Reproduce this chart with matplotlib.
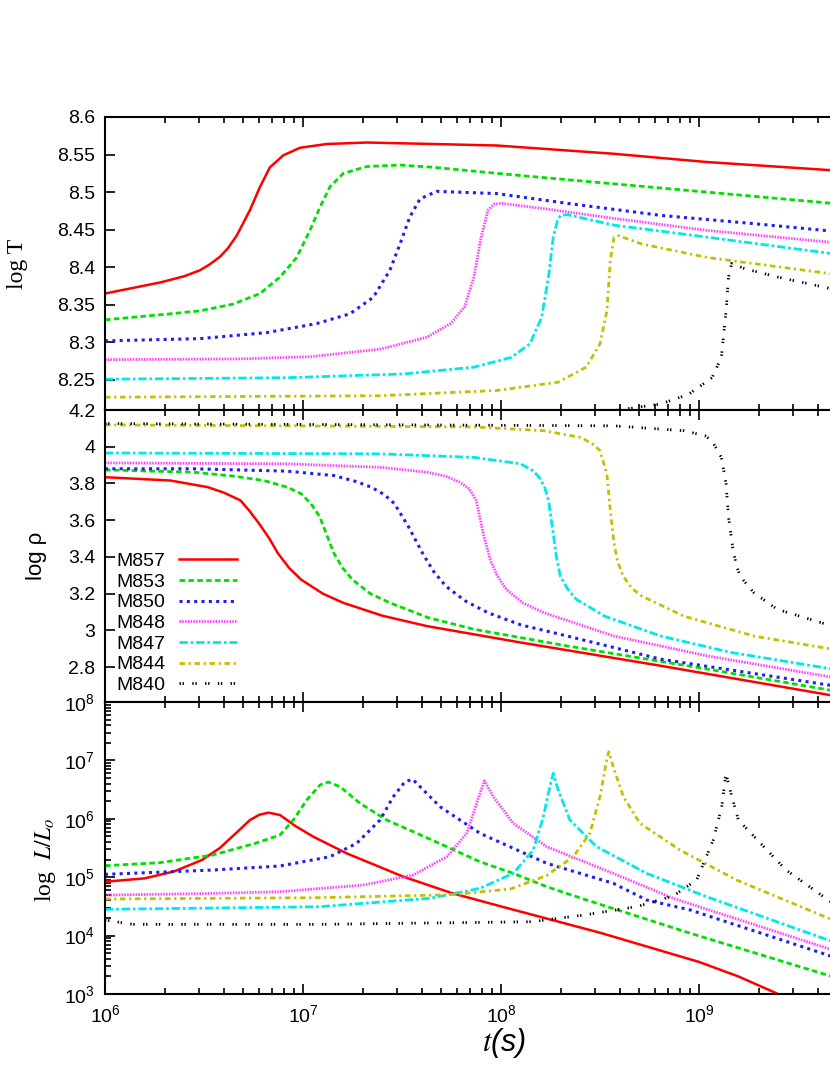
import numpy as np
import matplotlib
matplotlib.use("Agg")
import matplotlib.pyplot as plt
from matplotlib import ticker

plt.rcParams.update({
    "font.family": ["Liberation Sans", "DejaVu Sans"],
    "font.size": 14,
    "mathtext.fontset": "custom",
    "mathtext.rm": "Liberation Sans",
    "mathtext.it": "Liberation Sans:italic",
    "axes.linewidth": 1.5,
})

# =========================
# data  (x = log10 t[s])
# =========================
models = ["M857", "M853", "M850", "M848", "M847", "M844", "M840"]

# --- log T panel
T_M857_x = [6.0, 6.283, 6.4, 6.48, 6.53, 6.581, 6.62, 6.665, 6.732, 6.783, 6.833, 6.901, 6.985, 7.12, 7.322, 7.657, 7.98, 8.57, 9.04, 9.675]
T_M857_y = [8.365, 8.380, 8.388, 8.396, 8.404, 8.414, 8.425, 8.442, 8.476, 8.507, 8.533, 8.549, 8.559, 8.564, 8.566, 8.564, 8.562, 8.551, 8.540, 8.529]
T_M853_x = [6.0, 6.33, 6.48, 6.648, 6.783, 6.884, 6.968, 7.035, 7.086, 7.136, 7.204, 7.322, 7.49, 7.658, 8.10, 8.57, 9.04, 9.675]
T_M853_y = [8.330, 8.338, 8.342, 8.351, 8.365, 8.387, 8.413, 8.449, 8.480, 8.507, 8.525, 8.534, 8.536, 8.533, 8.522, 8.511, 8.500, 8.485]
T_M850_x = [6.0, 6.48, 6.817, 7.069, 7.237, 7.355, 7.439, 7.49, 7.540, 7.591, 7.675, 7.98, 8.335, 8.807, 9.278, 9.675]
T_M850_y = [8.302, 8.305, 8.313, 8.325, 8.338, 8.360, 8.396, 8.431, 8.467, 8.491, 8.501, 8.498, 8.485, 8.469, 8.458, 8.448]
T_M848_x = [6.0, 6.684, 7.04, 7.39, 7.627, 7.745, 7.816, 7.863, 7.9, 7.934, 7.965, 8.005, 8.217, 8.571, 9.042, 9.675]
T_M848_y = [8.277, 8.278, 8.281, 8.291, 8.307, 8.325, 8.347, 8.387, 8.440, 8.476, 8.484, 8.485, 8.478, 8.465, 8.449, 8.433]
T_M847_x = [6.0, 6.92, 7.51, 7.863, 8.052, 8.146, 8.205, 8.24, 8.264, 8.285, 8.30, 8.335, 8.571, 9.042, 9.675]
T_M847_y = [8.251, 8.253, 8.258, 8.267, 8.280, 8.298, 8.333, 8.387, 8.440, 8.462, 8.469, 8.470, 8.456, 8.440, 8.418]
T_M844_x = [6.0, 7.39, 7.98, 8.288, 8.43, 8.50, 8.535, 8.552, 8.571, 8.594, 8.71, 9.042, 9.675]
T_M844_y = [8.227, 8.229, 8.236, 8.247, 8.267, 8.298, 8.342, 8.409, 8.440, 8.442, 8.431, 8.413, 8.391]
T_M840_x = [6.0, 8.3, 8.618, 8.807, 8.948, 9.066, 9.113, 9.137, 9.149, 9.165, 9.231, 9.397, 9.675]
T_M840_y = [8.19, 8.20, 8.211, 8.218, 8.231, 8.253, 8.280, 8.342, 8.387, 8.405, 8.398, 8.387, 8.371]

# --- log rho panel
R_M857_x = [6.0, 6.33, 6.519, 6.6, 6.684, 6.73, 6.778, 6.83, 6.873, 6.93, 6.991, 7.1, 7.203, 7.4, 7.627, 8.099, 8.807, 9.675]
R_M857_y = [3.834, 3.816, 3.780, 3.750, 3.708, 3.650, 3.582, 3.500, 3.420, 3.340, 3.276, 3.200, 3.150, 3.080, 3.023, 2.934, 2.807, 2.645]
R_M853_x = [6.0, 6.448, 6.65, 6.802, 6.92, 6.991, 7.04, 7.085, 7.12, 7.156, 7.2, 7.25, 7.34, 7.439, 7.63, 7.863, 8.335, 9.042, 9.675]
R_M853_y = [3.874, 3.861, 3.840, 3.816, 3.780, 3.744, 3.690, 3.618, 3.520, 3.420, 3.340, 3.276, 3.200, 3.150, 3.070, 3.006, 2.915, 2.789, 2.672]
R_M850_x = [6.0, 6.448, 6.92, 7.156, 7.27, 7.344, 7.41, 7.462, 7.533, 7.604, 7.66, 7.722, 7.82, 7.934, 8.1, 8.335, 8.807, 9.675]
R_M850_y = [3.880, 3.880, 3.867, 3.843, 3.810, 3.780, 3.740, 3.690, 3.564, 3.420, 3.320, 3.240, 3.160, 3.096, 3.030, 2.969, 2.843, 2.699]
R_M848_x = [6.0, 6.92, 7.392, 7.627, 7.72, 7.792, 7.84, 7.875, 7.910, 7.946, 7.98, 8.028, 8.11, 8.217, 8.571, 9.042, 9.675]
R_M848_y = [3.912, 3.907, 3.888, 3.861, 3.840, 3.807, 3.770, 3.708, 3.528, 3.384, 3.300, 3.222, 3.150, 3.096, 2.969, 2.861, 2.744]
R_M847_x = [6.0, 7.392, 7.863, 8.099, 8.16, 8.193, 8.22, 8.24, 8.264, 8.28, 8.30, 8.34, 8.382, 8.524, 8.807, 9.16, 9.675]
R_M847_y = [3.966, 3.961, 3.942, 3.907, 3.870, 3.834, 3.780, 3.708, 3.528, 3.400, 3.294, 3.220, 3.168, 3.077, 2.969, 2.880, 2.789]
R_M844_x = [6.0, 7.863, 8.217, 8.406, 8.47, 8.5, 8.535, 8.552, 8.571, 8.59, 8.618, 8.66, 8.712, 8.925, 9.278, 9.675]
R_M844_y = [4.119, 4.108, 4.087, 4.050, 4.010, 3.978, 3.852, 3.654, 3.474, 3.370, 3.294, 3.230, 3.186, 3.077, 2.969, 2.897]
R_M840_x = [6.0, 8.571, 8.925, 9.03, 9.066, 9.113, 9.137, 9.149, 9.172, 9.19, 9.208, 9.278, 9.396, 9.675]
R_M840_y = [4.126, 4.114, 4.087, 4.060, 4.032, 3.942, 3.798, 3.618, 3.438, 3.350, 3.294, 3.204, 3.114, 3.023]

# --- log L/Lo panel (values are log10 L)
L_M857_x = [6.0, 6.2, 6.35, 6.49, 6.58, 6.66, 6.732, 6.78, 6.826, 6.884, 6.96, 7.052, 7.22, 7.507, 7.75, 8.0, 8.5, 9.0, 9.2, 9.4, 9.7]
L_M857_y = [4.923, 4.980, 5.100, 5.295, 5.500, 5.750, 5.979, 6.070, 6.105, 6.065, 5.880, 5.694, 5.409, 5.009, 4.730, 4.500, 4.050, 3.550, 3.300, 3.000, 2.550]
L_M853_x = [6.0, 6.276, 6.544, 6.759, 6.884, 6.951, 7.019, 7.086, 7.128, 7.187, 7.288, 7.423, 7.557, 7.726, 7.894, 8.062, 8.231, 8.432, 8.957, 9.676]
L_M853_y = [5.197, 5.249, 5.380, 5.580, 5.723, 5.979, 6.322, 6.579, 6.630, 6.550, 6.265, 5.979, 5.779, 5.523, 5.265, 5.066, 4.838, 4.610, 4.040, 3.296]
L_M850_x = [6.0, 6.544, 6.884, 7.136, 7.271, 7.389, 7.456, 7.515, 7.554, 7.608, 7.692, 7.894, 8.231, 8.567, 8.736, 8.957, 9.676]
L_M850_y = [5.049, 5.123, 5.192, 5.351, 5.580, 5.979, 6.378, 6.635, 6.676, 6.493, 6.207, 5.752, 5.238, 4.896, 4.610, 4.438, 3.639]
L_M848_x = [6.0, 6.5, 6.884, 7.305, 7.557, 7.726, 7.827, 7.877, 7.916, 7.961, 8.062, 8.231, 8.567, 8.87, 9.676]
L_M848_y = [4.695, 4.720, 4.752, 4.866, 5.038, 5.351, 5.752, 6.265, 6.652, 6.378, 5.923, 5.523, 5.066, 4.639, 3.753]
L_M847_x = [6.0, 7.08, 7.641, 7.894, 8.062, 8.163, 8.214, 8.247, 8.264, 8.289, 8.348, 8.483, 8.736, 9.039, 9.676]
L_M847_y = [4.450, 4.495, 4.639, 4.810, 5.066, 5.466, 6.036, 6.550, 6.779, 6.493, 5.979, 5.523, 5.066, 4.666, 3.896]
L_M844_x = [6.0, 7.08, 7.75, 8.05, 8.231, 8.365, 8.449, 8.5, 8.534, 8.545, 8.567, 8.618, 8.702, 8.904, 9.19, 9.676]
L_M844_y = [4.627, 4.650, 4.700, 4.800, 5.030, 5.351, 5.752, 6.378, 7.007, 7.149, 6.892, 6.378, 5.923, 5.466, 4.952, 4.267]
L_M840_x = [6.0, 6.142, 7.08, 8.153, 8.421, 8.69, 8.87, 8.988, 9.072, 9.115, 9.136, 9.157, 9.199, 9.279, 9.44, 9.676]
L_M840_y = [4.267, 4.193, 4.193, 4.238, 4.353, 4.500, 4.680, 4.952, 5.637, 6.207, 6.779, 6.493, 5.979, 5.694, 5.123, 4.553]

# =========================
# styles (gnuplot look)
# =========================
colors = ["#ff0000", "#00e000", "#2020ee", "#ff40ff", "#00e8e8", "#c4c000", "#000000"]
styles = ["-", (0, (2.0, 1.2)), (0, (1.0, 1.4)), (0, (0.55, 0.45)),
          (0, (3.0, 1.0, 1.0, 1.0)), (0, (2.0, 1.3, 0.8, 1.3)), (0, (0.5, 0.6, 0.5, 3.0))]
widths = [1.8, 2.0, 2.2, 2.0, 2.0, 2.0, 2.0]

T_data = [(T_M857_x, T_M857_y), (T_M853_x, T_M853_y), (T_M850_x, T_M850_y), (T_M848_x, T_M848_y),
          (T_M847_x, T_M847_y), (T_M844_x, T_M844_y), (T_M840_x, T_M840_y)]
R_data = [(R_M857_x, R_M857_y), (R_M853_x, R_M853_y), (R_M850_x, R_M850_y), (R_M848_x, R_M848_y),
          (R_M847_x, R_M847_y), (R_M844_x, R_M844_y), (R_M840_x, R_M840_y)]
L_data = [(L_M857_x, L_M857_y), (L_M853_x, L_M853_y), (L_M850_x, L_M850_y), (L_M848_x, L_M848_y),
          (L_M847_x, L_M847_y), (L_M844_x, L_M844_y), (L_M840_x, L_M840_y)]

fig = plt.figure(figsize=(8.3, 10.75), dpi=100)

# axes run past the right edge of the picture (cropped look)
left, width = 0.1265, 0.9542
ax1 = fig.add_axes([left, 0.6186, width, 0.2726])
ax2 = fig.add_axes([left, 0.3470, width, 0.2716])
ax3 = fig.add_axes([left, 0.0753, width, 0.2717])

for i, name in enumerate(models):
    kw = dict(color=colors[i], linestyle=styles[i], linewidth=widths[i])
    x, y = T_data[i]
    ax1.plot(10 ** np.array(x), y, **kw)
    x, y = R_data[i]
    ax2.plot(10 ** np.array(x), y, label=name, **kw)
    x, y = L_data[i]
    ax3.plot(10 ** np.array(x), 10 ** np.array(y), **kw)

for ax in (ax1, ax2, ax3):
    ax.set_xscale("log")
    ax.set_xlim(1e6, 1e10)
    ax.set_xticks([1e6, 1e7, 1e8, 1e9])
    ax.xaxis.set_minor_locator(ticker.LogLocator(base=10, subs=np.arange(2, 10), numticks=20))
    ax.tick_params(which="both", direction="in", top=True, right=True, width=1.2)
    ax.tick_params(which="major", length=7, pad=7)
    ax.tick_params(which="minor", length=4)

ax1.tick_params(labelbottom=False)
ax2.tick_params(labelbottom=False)

ax1.set_ylim(8.21, 8.6)
ax1.set_yticks([8.25, 8.3, 8.35, 8.4, 8.45, 8.5, 8.55, 8.6])
ax1.yaxis.set_major_formatter(ticker.FormatStrFormatter("%g"))

ax2.set_ylim(2.61, 4.2)
ax2.set_yticks([2.8, 3.0, 3.2, 3.4, 3.6, 3.8, 4.0, 4.2])
ax2.yaxis.set_major_formatter(ticker.FormatStrFormatter("%g"))

ax3.set_yscale("log")
ax3.set_ylim(1e3, 1e8)

ax1.set_ylabel("log T", family="Liberation Serif", fontsize=17)
ax1.yaxis.set_label_coords(-0.097, 0.5)
ax2.set_ylabel("log ρ", fontsize=16)
ax2.yaxis.set_label_coords(-0.073, 0.5)
ax3.set_ylabel(r"log  $L/L_o$", family="Liberation Serif", math_fontfamily="stix", fontsize=17)
ax3.yaxis.set_label_coords(-0.059, 0.46)

ax3.set_xlabel(r"$t$(s)", fontsize=22, fontstyle="italic", math_fontfamily="stix")
ax3.xaxis.set_label_coords(0.504, -0.11)

leg = ax2.legend(loc="lower left", bbox_to_anchor=(0.004, 0.0), frameon=False, markerfirst=False,
                 handlelength=3.0, handletextpad=0.7, labelspacing=0.16, borderaxespad=0.0,
                 fontsize=14)

fig.savefig("out.png", dpi=100)
